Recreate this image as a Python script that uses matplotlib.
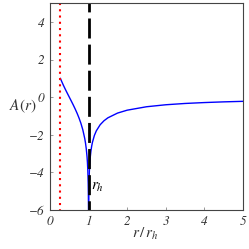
import matplotlib
matplotlib.use('Agg')
import matplotlib.pyplot as plt

# curve: left branch (inside r_h) and right branch (outside)
r_in = [0.27, 0.30, 0.35, 0.40, 0.45, 0.50, 0.55, 0.60, 0.65, 0.70, 0.75, 0.80,
        0.85, 0.90, 0.92, 0.94, 0.96, 0.97, 0.98, 0.99, 0.995, 0.998]
A_in = [0.995, 0.847, 0.619, 0.405, 0.201, 0.0, -0.201, -0.405, -0.619, -0.847,
        -1.099, -1.386, -1.735, -2.197, -2.442, -2.752, -3.178, -3.476, -3.892,
        -4.595, -5.293, -6.212]
r_out = [1.002, 1.005, 1.01, 1.02, 1.03, 1.04, 1.06, 1.08, 1.10, 1.15, 1.20, 1.30,
         1.40, 1.50, 1.75, 2.0, 2.5, 3.0, 3.5, 4.0, 4.5, 5.0]
A_out = [-6.216, -5.303, -4.615, -3.932, -3.536, -3.258, -2.872, -2.603, -2.398,
         -2.037, -1.792, -1.466, -1.253, -1.099, -0.847, -0.693, -0.511, -0.405,
         -0.336, -0.288, -0.251, -0.223]
r_min = 0.27     # red dotted line
r_horizon = 1.0  # black dashed line
xticks = [0, 1, 2, 3, 4, 5]
yticks = [-6, -4, -2, 0, 2, 4]
xticklabels = ['0', '1', '2', '3', '4', '5']
yticklabels = ['\u22126', '\u22124', '\u22122', '0', '2', '4']

plt.rcParams['font.family'] = ['STIXGeneral', 'DejaVu Serif']
plt.rcParams['mathtext.fontset'] = 'stix'

fig = plt.figure(figsize=(2.49, 2.49), dpi=100)
ax = fig.add_axes([0.2008, 0.1566, 0.775, 0.831])

ax.plot(r_in, A_in, color='#0000ff', lw=1.0)
ax.plot(r_out, A_out, color='#0000ff', lw=1.0)
ax.plot([r_horizon, r_horizon], [5, -6], color='black', lw=2.0,
        linestyle=(4.0, (7.2, 2.2)))
ax.plot([r_min, r_min], [5, -6], color='#ff0000', lw=1.5,
        linestyle=(0, (1, 2)))

ax.text(1.07, -4.8, r'$r_{h}$', fontsize=11, ha='left', va='center')

ax.set_xlim(0, 5)
ax.set_ylim(-6, 5)
ax.set_xticks(xticks)
ax.set_yticks(yticks)
ax.set_xticklabels(xticklabels, fontstyle='italic', fontsize=9.5, color='#333333')
ax.set_yticklabels(yticklabels, fontstyle='italic', fontsize=9.5, color='#333333')
ax.tick_params(direction='in', length=2.5, width=0.6, color='#888888', pad=4)
for s in ax.spines.values():
    s.set_color('#444444')
    s.set_linewidth(0.8)

fig.text(0.09, 0.572, r'$A(r)$', fontsize=11, ha='center', va='center',
         color='#333333')
fig.text(0.585, 0.06, r'$r\,/\,r_{h}$', fontsize=11, ha='center', va='center',
         color='#333333')

fig.savefig('out.png', dpi=100)
